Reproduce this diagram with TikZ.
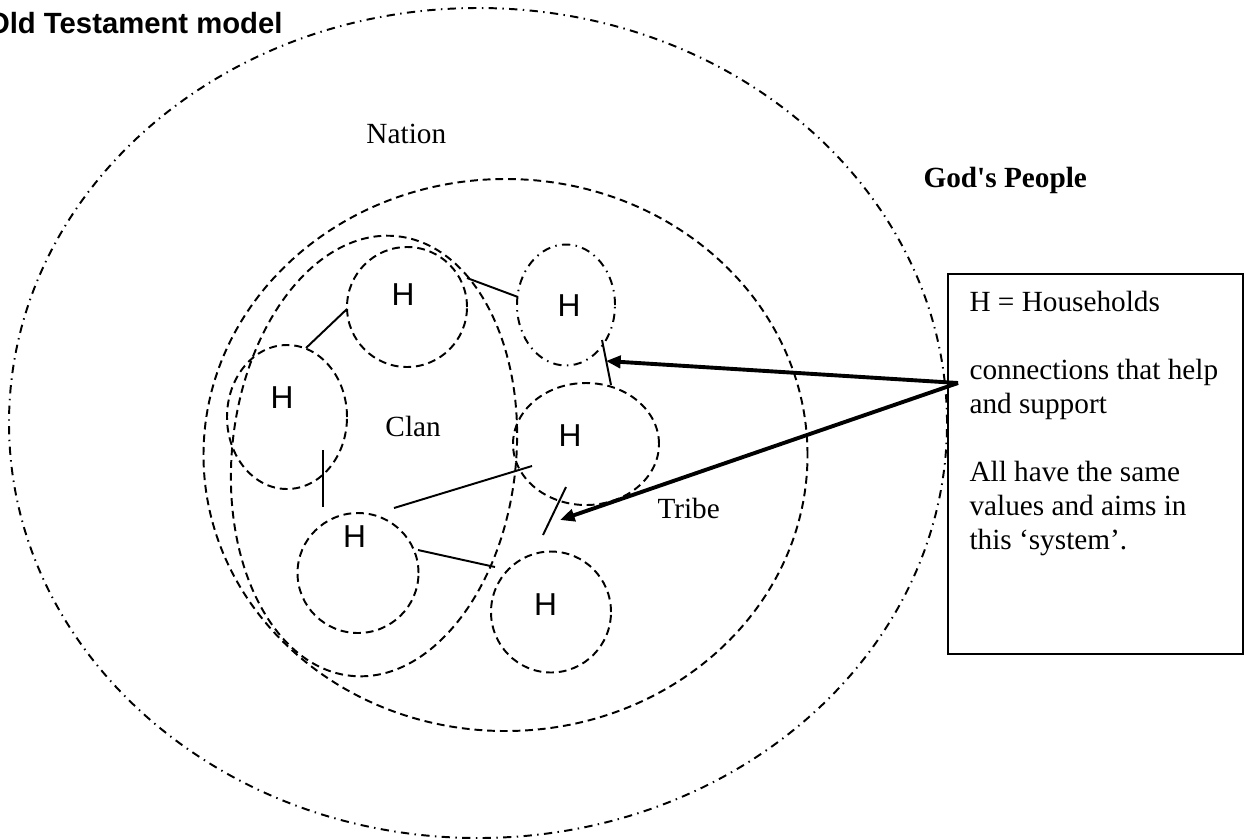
\documentclass[tikz,border=0pt]{standalone}
\usepackage{fontspec}
\newfontfamily\tnr{Liberation Serif}
\newfontfamily\arial{Liberation Sans}
\usetikzlibrary{shapes.geometric,arrows.meta}
\newcommand\px{0.41pt}
\begin{document}
\begin{tikzpicture}[x=0.41pt,y=-0.41pt,
  dsh/.style={draw, line width=0.8pt, dash pattern=on 3.2pt off 2pt},
  dshdot/.style={draw, line width=0.8pt, dash pattern=on 3.4pt off 2.2pt on 0.6pt off 2.2pt},
  ell/.style={ellipse, inner sep=0pt, outer sep=0pt},
  hlab/.style={font=\arial\fontsize{13}{15}\selectfont, inner sep=0pt},
  lab/.style={font=\tnr\fontsize{12}{13.9}\selectfont, inner sep=0pt, anchor=base west},
  conn/.style={line width=0.8pt},
  arr/.style={line width=1.6pt, -{Triangle[length=6pt,width=5pt]}},
]
\useasboundingbox (0,0) rectangle (1248,839);

% title
\node[font=\arial\bfseries\fontsize{12}{14}\selectfont, anchor=base east, inner sep=0pt] (title) at (283,33) {Old Testament model};

% big groupings
\node[ell, dshdot, minimum width=938*\px, minimum height=830*\px] (nation) at (478,423) {};
\node[ell, dsh, minimum width=604*\px, minimum height=552*\px] (tribe) at (505.5,455) {};
\node[ell, dsh, rotate=-6, minimum width=284*\px, minimum height=442*\px] (clan) at (374,456) {};

% households
\node[ell, dsh, minimum width=120*\px, minimum height=120*\px] (h1) at (407,307) {};
\node[ell, dsh, minimum width=120*\px, minimum height=144*\px] (h2) at (287,417) {};
\node[ell, dshdot, minimum width=98*\px, minimum height=121*\px] (h3) at (566,305) {};
\node[ell, dsh, minimum width=146*\px, minimum height=122*\px] (h4) at (586,444) {};
\node[ell, dsh, minimum width=121*\px, minimum height=120*\px] (h5) at (358,573) {};
\node[ell, dsh, minimum width=120*\px, minimum height=121*\px] (h6) at (551,612) {};

\node[hlab] (l1) at (403,295) {H};
\node[hlab] (l2) at (282,398) {H};
\node[hlab] (l3) at (569,306) {H};
\node[hlab] (l4) at (570,436) {H};
\node[hlab] (l5) at (354.5,537) {H};
\node[hlab] (l6) at (545.5,605) {H};

% labels
\node[lab] (nationlab) at (366,143) {Nation};
\node[lab, font=\tnr\bfseries\fontsize{12}{13.9}\selectfont] (godlab) at (923,187) {God's People};
\node[lab] (clanlab) at (385,436) {Clan};
\node[lab] (tribelab) at (657,518) {Tribe};

% connections
\coordinate (a1) at (467,278); \coordinate (a2) at (518,297);
\coordinate (b1) at (306,348); \coordinate (b2) at (347,309);
\coordinate (c1) at (323,450); \coordinate (c2) at (323,507);
\coordinate (d1) at (394,508); \coordinate (d2) at (532,466);
\coordinate (e1) at (418,550); \coordinate (e2) at (495,567);
\coordinate (f1) at (602,340); \coordinate (f2) at (611,385);
\coordinate (g1) at (566,487); \coordinate (g2) at (543,535);
\draw[conn] (a1) -- (a2);
\draw[conn] (b1) -- (b2);
\draw[conn] (c1) -- (c2);
\draw[conn] (d1) -- (d2);
\draw[conn] (e1) -- (e2);
\draw[conn] (f1) -- (f2);
\draw[conn] (g1) -- (g2);

% legend box
\node[draw, line width=0.8pt, minimum width=295*\px, minimum height=380*\px, anchor=north west, inner sep=0pt] (box) at (947,273) {};
\node[font=\tnr\fontsize{12}{13.9}\selectfont, align=left, anchor=north west, inner sep=0pt] (boxtext) at (969,291)
  {H = Households\\[13.9pt]
   connections that help\\
   and support\\[13.9pt]
   All have the same\\
   values and aims in\\
   this ‘system’.};

% arrows
\coordinate (src) at (958,383);
\coordinate (t1) at (606,361);
\coordinate (t2) at (560,520);
\draw[arr] (src) -- (t1);
\draw[arr] (src) -- (t2);
\end{tikzpicture}
\end{document}
